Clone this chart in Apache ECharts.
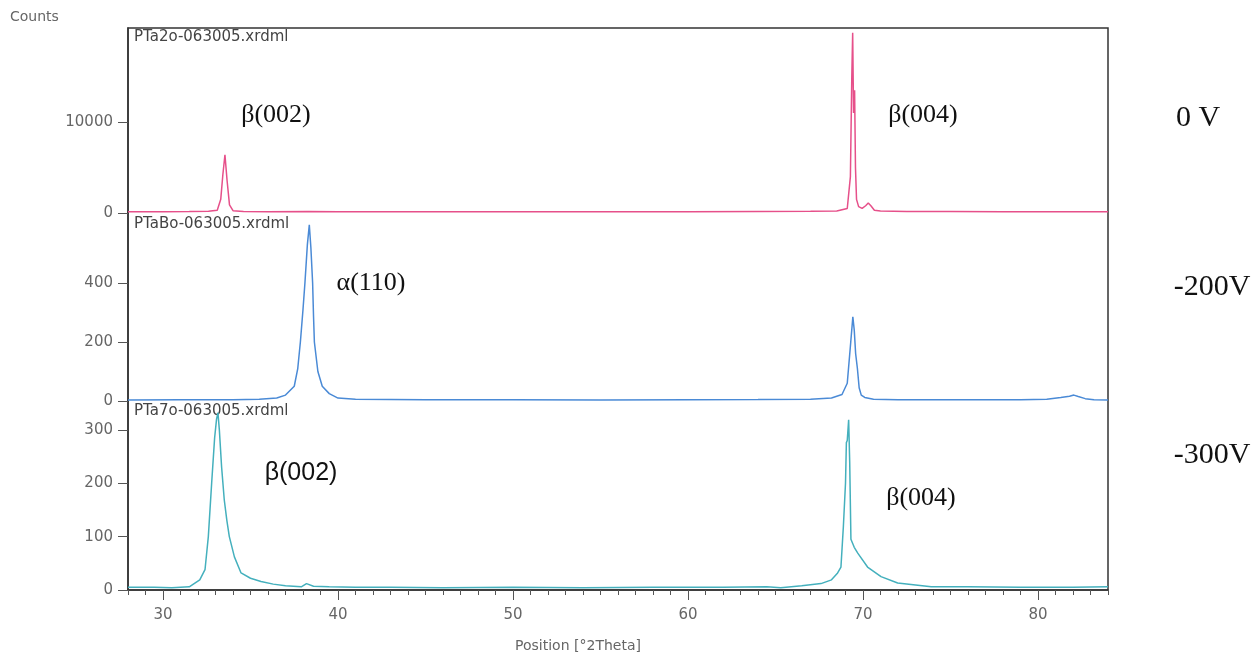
<!DOCTYPE html>
<html>
<head>
<meta charset="utf-8">
<title>XRD patterns of Ta films vs. substrate bias</title>
<script src="https://cdn.jsdelivr.net/npm/echarts@6/dist/echarts.min.js"></script>
<style>
  html, body { margin: 0; padding: 0; background: #ffffff; }
  #chart { width: 1258px; height: 657px; }
</style>
</head>
<body>
<div id="chart"></div>
<script>
// Scan positions (°2θ) and intensities (counts) for each bias voltage
const theta0V = [28, 30, 31.5, 32.6, 33.1, 33.3, 33.42, 33.54, 33.66, 33.8, 34.0, 34.6, 36, 38.3, 40, 44, 48, 52, 56, 60, 64, 67, 68.5, 69.1, 69.28, 69.36, 69.41, 69.46, 69.52, 69.57, 69.63, 69.75, 69.95, 70.15, 70.3, 70.45, 70.65, 71, 72.5, 75, 78, 81, 84];
const counts0V = [140, 150, 160, 180, 300, 1500, 4200, 6400, 3600, 900, 250, 170, 150, 160, 150, 140, 150, 140, 150, 140, 160, 180, 220, 500, 4000, 15000, 19800, 11000, 13500, 5000, 1500, 700, 500, 800, 1100, 800, 300, 220, 170, 160, 150, 140, 140];

const theta200V = [28, 31, 34, 35.5, 36.5, 37.0, 37.5, 37.7, 37.85, 38.0, 38.11, 38.25, 38.36, 38.45, 38.55, 38.6, 38.65, 38.85, 39.1, 39.5, 40.0, 41, 45, 50, 55, 60, 64, 67, 68.2, 68.8, 69.1, 69.3, 69.42, 69.5, 69.58, 69.68, 69.78, 69.9, 70.1, 70.6, 72, 76, 79, 80.5, 81.3, 81.8, 82.05, 82.3, 82.7, 83.2, 84];
const counts200V = [3, 4, 4, 6, 10, 20, 50, 110, 200, 310, 400, 530, 597, 520, 400, 290, 200, 100, 50, 25, 10, 6, 4, 4, 3, 4, 5, 6, 10, 22, 60, 200, 285, 240, 160, 110, 45, 20, 12, 6, 4, 4, 4, 6, 12, 16, 20, 15, 8, 4, 3];

const theta300V = [28, 29.5, 30.5, 31.5, 32.1, 32.4, 32.59, 32.78, 32.95, 33.06, 33.14, 33.22, 33.35, 33.5, 33.65, 33.79, 34.08, 34.46, 35.0, 35.6, 36.3, 37.0, 37.9, 38.2, 38.6, 39.5, 41, 43, 46, 50, 54, 58, 62, 64.5, 65.3, 66.5, 67.6, 68.2, 68.55, 68.74, 68.88, 69.0, 69.05, 69.1, 69.18, 69.24, 69.31, 69.5, 69.7, 70.26, 71.03, 71.98, 73.9, 76, 79, 82, 84];
const counts300V = [5, 5, 4, 6, 19, 38, 100, 200, 285, 320, 332, 300, 230, 169, 130, 100, 62, 32, 22, 16, 11, 8, 6, 12, 7, 6, 5, 5, 4, 5, 4, 5, 5, 6, 4, 8, 12, 19, 32, 43, 120, 200, 276, 280, 319, 240, 95, 80, 69, 43, 25, 13, 6, 6, 5, 5, 6];

// Axis ticks and labels
const xMin = 28, xMax = 84;
const xMajorTicks = [30, 40, 50, 60, 70, 80];
const yTicks0V = [0, 10000];
const yTicks200V = [0, 200, 400];
const yTicks300V = [0, 100, 200, 300];
const yMax0V = 20330, yMax200V = 637, yMax300V = 354;

// Panel and peak annotations
const fileNames = ['PTa2o-063005.xrdml', 'PTaBo-063005.xrdml', 'PTa7o-063005.xrdml'];
const biasLabels = ['0 V', '-200V', '-300V'];
const seriesColors = ['#e6508a', '#4a8ad6', '#44b0bd'];

const toPairs = (xs, ys) => xs.map((x, i) => [x, ys[i]]);

const labelFont = 'DejaVu Sans';
const tickColor = '#666';
const axisDark = '#333';

const gridLeft = 128, gridRight = 150;
const panelTops = [28, 213, 401];
const panelHeights = [185, 188, 189];

const chart = echarts.init(document.getElementById('chart'));

function yAxisFor(gridIndex, max, ticks) {
  return {
    type: 'value', gridIndex: gridIndex, min: 0, max: max,
    axisLine: { show: true, lineStyle: { color: axisDark, width: 1.5 } },
    axisTick: { show: true, length: 10, inside: false, customValues: ticks, lineStyle: { color: '#555' } },
    axisLabel: { customValues: ticks, margin: 15, color: tickColor, fontFamily: labelFont, fontSize: 15,
      formatter: v => String(v) },
    splitLine: { show: false }
  };
}

function hiddenX(gridIndex) {
  return { type: 'value', gridIndex: gridIndex, min: xMin, max: xMax, show: false };
}

const option = {
  backgroundColor: '#ffffff',
  animation: false,
  grid: [
    { left: gridLeft, right: gridRight, top: panelTops[0], height: panelHeights[0] },
    { left: gridLeft, right: gridRight, top: panelTops[1], height: panelHeights[1] },
    { left: gridLeft, right: gridRight, top: panelTops[2], height: panelHeights[2] },
    // outer frame around all three panels
    { left: gridLeft, right: gridRight, top: panelTops[0], bottom: 67, show: true,
      borderColor: axisDark, borderWidth: 1.5, backgroundColor: 'transparent' }
  ],
  xAxis: [
    hiddenX(0),
    hiddenX(1),
    // minor ticks every degree
    { type: 'value', gridIndex: 2, min: xMin, max: xMax, interval: 1, position: 'bottom',
      axisLine: { show: true, onZero: false, lineStyle: { color: axisDark, width: 1.5 } },
      axisTick: { show: true, length: 5, lineStyle: { color: '#555' } },
      axisLabel: { show: false }, splitLine: { show: false } },
    // major ticks with labels
    { type: 'value', gridIndex: 2, min: xMin, max: xMax, position: 'bottom',
      axisLine: { show: false, onZero: false },
      axisTick: { show: true, length: 10, customValues: xMajorTicks, lineStyle: { color: '#555' } },
      axisLabel: { customValues: xMajorTicks, margin: 18, color: tickColor, fontFamily: labelFont, fontSize: 15 },
      splitLine: { show: false } },
    hiddenX(3)
  ],
  yAxis: [
    yAxisFor(0, yMax0V, yTicks0V),
    yAxisFor(1, yMax200V, yTicks200V),
    yAxisFor(2, yMax300V, yTicks300V),
    { type: 'value', gridIndex: 3, show: false }
  ],
  series: [
    { name: fileNames[0], type: 'line', xAxisIndex: 0, yAxisIndex: 0, data: toPairs(theta0V, counts0V),
      showSymbol: false, lineStyle: { color: seriesColors[0], width: 1.5 }, silent: true },
    { name: fileNames[1], type: 'line', xAxisIndex: 1, yAxisIndex: 1, data: toPairs(theta200V, counts200V),
      showSymbol: false, lineStyle: { color: seriesColors[1], width: 1.5 }, silent: true },
    { name: fileNames[2], type: 'line', xAxisIndex: 2, yAxisIndex: 2, data: toPairs(theta300V, counts300V),
      showSymbol: false, lineStyle: { color: seriesColors[2], width: 1.5 }, silent: true }
  ],
  graphic: [
    { type: 'text', x: 10, y: 17, style: { text: 'Counts', fill: tickColor, font: '14px "DejaVu Sans"', verticalAlign: 'middle' } },
    { type: 'text', x: 578, y: 646, style: { text: 'Position [°2Theta]', fill: tickColor, font: '14px "DejaVu Sans"', align: 'center', verticalAlign: 'middle' } },

    { type: 'text', x: 134, y: 37, style: { text: fileNames[0], fill: '#444', font: '15px "DejaVu Sans"', verticalAlign: 'middle' } },
    { type: 'text', x: 134, y: 224, style: { text: fileNames[1], fill: '#444', font: '15px "DejaVu Sans"', verticalAlign: 'middle' } },
    { type: 'text', x: 134, y: 411, style: { text: fileNames[2], fill: '#444', font: '15px "DejaVu Sans"', verticalAlign: 'middle' } },

    { type: 'text', x: 276, y: 115, style: { text: 'β(002)', fill: '#111', font: '26px "Liberation Serif"', align: 'center', verticalAlign: 'middle' } },
    { type: 'text', x: 923, y: 115, style: { text: 'β(004)', fill: '#111', font: '26px "Liberation Serif"', align: 'center', verticalAlign: 'middle' } },
    { type: 'text', x: 371, y: 283, style: { text: 'α(110)', fill: '#111', font: '26px "Liberation Serif"', align: 'center', verticalAlign: 'middle' } },
    { type: 'text', x: 301, y: 473, style: { text: 'β(002)', fill: '#111', font: '25px "Liberation Sans"', align: 'center', verticalAlign: 'middle' } },
    { type: 'text', x: 921, y: 498, style: { text: 'β(004)', fill: '#111', font: '26px "Liberation Serif"', align: 'center', verticalAlign: 'middle' } },

    { type: 'text', x: 1198, y: 118, style: { text: biasLabels[0], fill: '#111', font: '30px "Liberation Serif"', align: 'center', verticalAlign: 'middle' } },
    { type: 'text', x: 1212, y: 287, style: { text: biasLabels[1], fill: '#111', font: '30px "Liberation Serif"', align: 'center', verticalAlign: 'middle' } },
    { type: 'text', x: 1212, y: 455, style: { text: biasLabels[2], fill: '#111', font: '30px "Liberation Serif"', align: 'center', verticalAlign: 'middle' } }
  ]
};

chart.setOption(option);
</script>
</body>
</html>
